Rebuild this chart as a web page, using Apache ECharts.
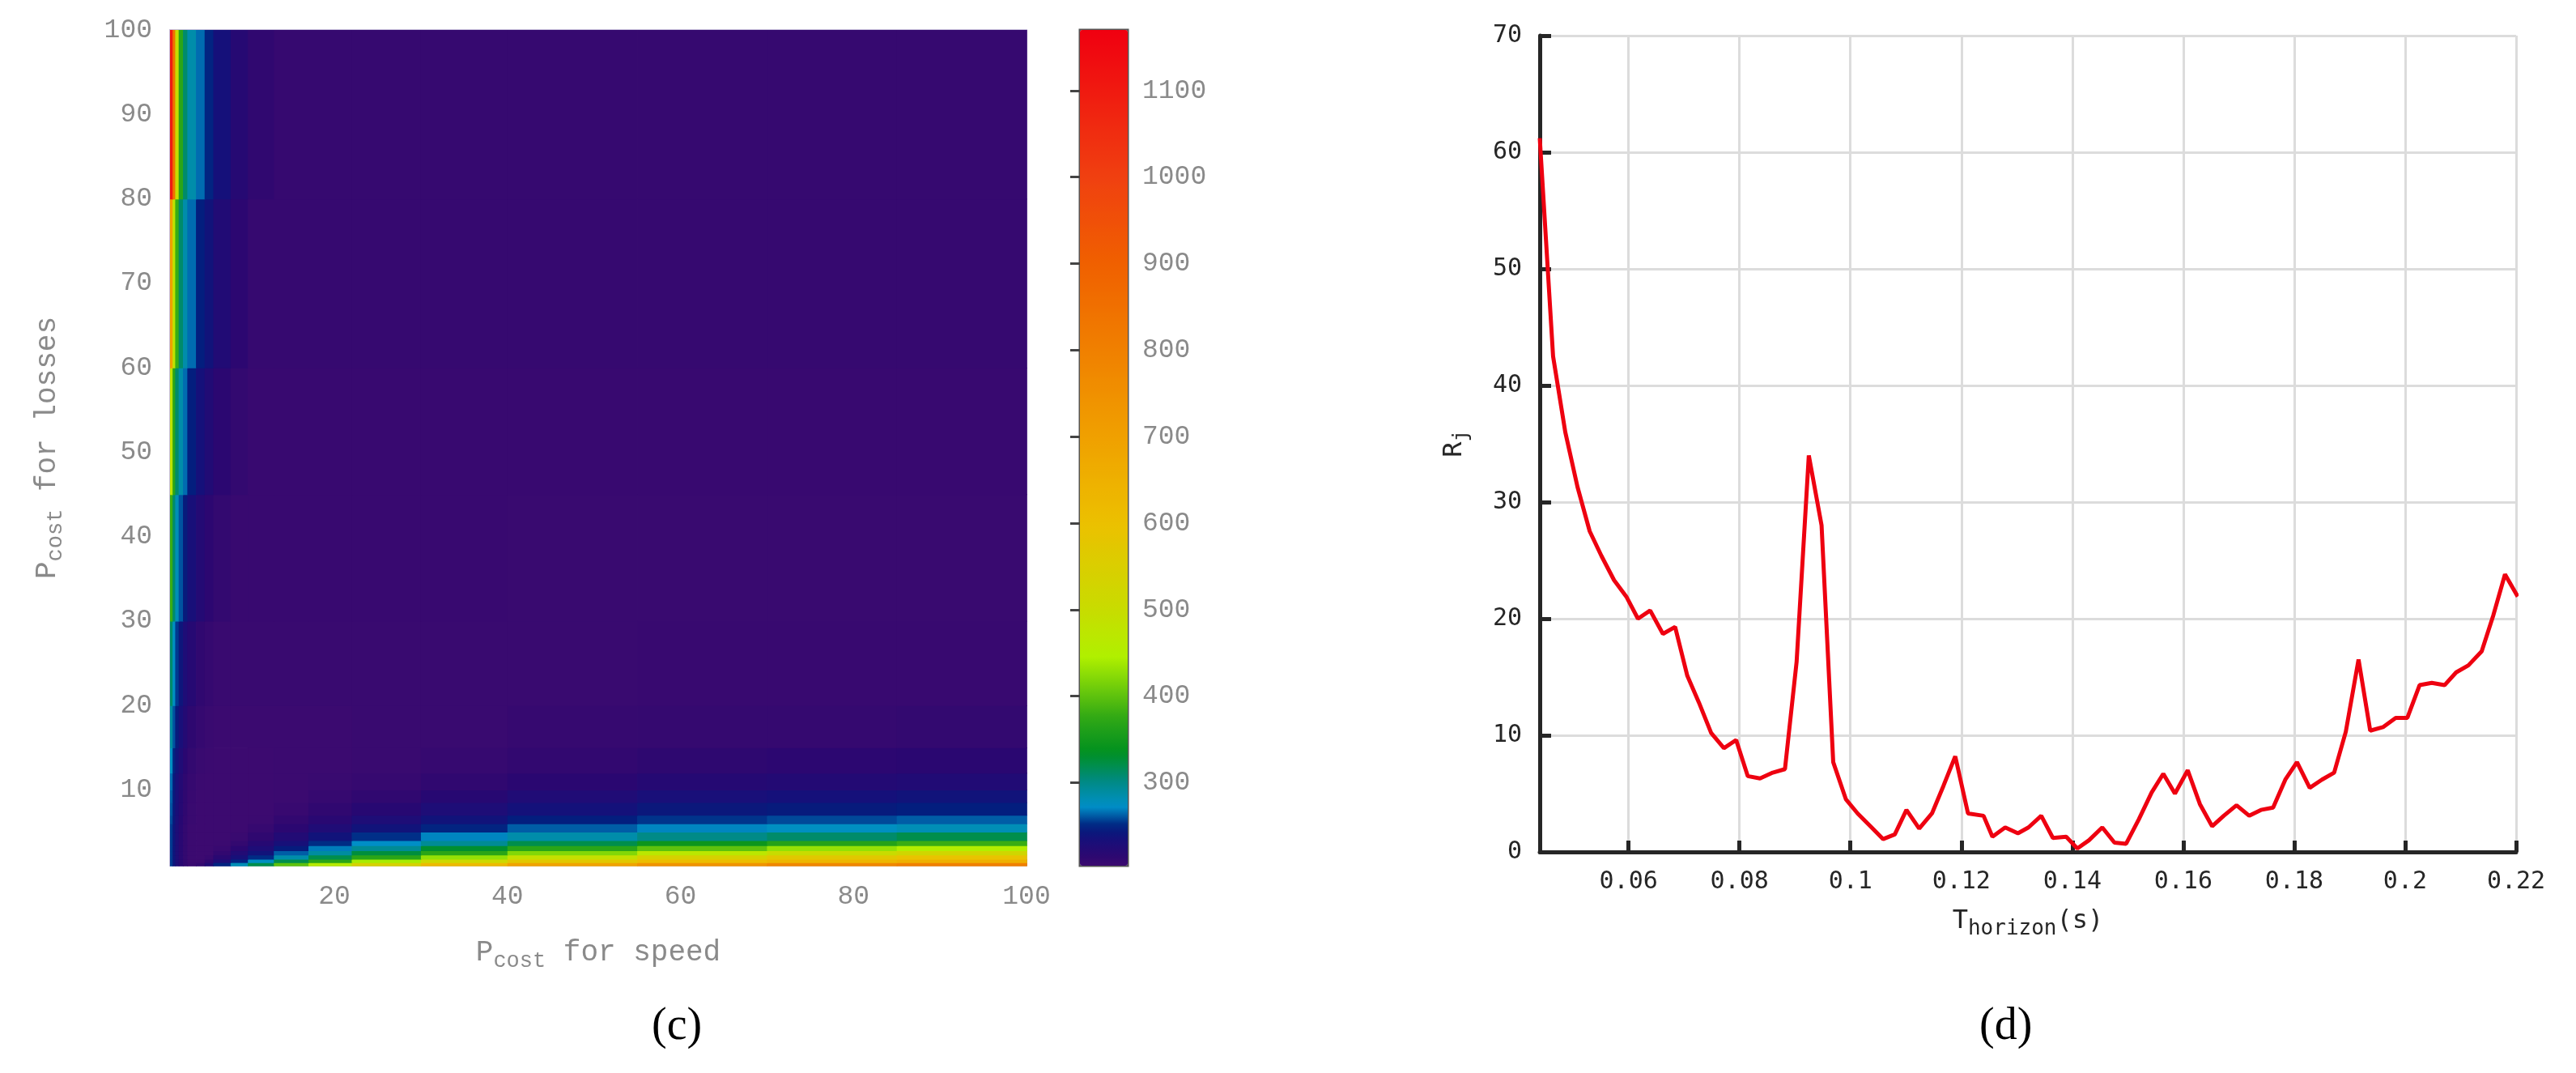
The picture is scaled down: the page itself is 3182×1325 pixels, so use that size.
<!DOCTYPE html>
<html><head><meta charset="utf-8">
<script src="https://cdn.jsdelivr.net/npm/echarts@6/dist/echarts.min.js"></script>
<style>html,body{margin:0;padding:0;background:#fff}#c{width:3182px;height:1325px}</style>
</head><body><div id="c"></div>
<script>
// ---- heatmap (c) data ----
const xEdges = [1,1.3,1.6,2,2.5,3,4,5,6,8,10,13,17,22,30,40,55,70,85,100];
const yEdges = [1,1.4,1.8,2.3,2.8,3.4,4,5,6,7,8.5,10,12,15,20,30,45,60,80,100];
const heatRows = [
 [255,240,228,218,210,206,210,225,250,280,320,400,460,540,620,690,740,780,800],
 [255,240,228,218,210,205,205,212,228,250,275,320,370,440,510,570,610,630,650],
 [255,240,228,218,210,205,203,207,218,234,252,285,320,370,430,490,540,570,590],
 [255,240,228,218,210,205,203,204,211,224,238,262,290,325,370,420,470,500,520],
 [255,240,228,218,210,205,203,203,207,216,228,246,268,295,330,370,400,430,450],
 [255,240,228,218,210,205,203,203,205,210,220,234,252,272,295,320,345,365,380],
 [255,240,228,218,210,205,203,203,204,206,213,224,238,253,270,285,300,310,320],
 [255,240,228,218,210,205,203,203,203,204,208,216,226,238,250,262,270,275,280],
 [258,242,230,219,211,206,203,203,203,203,205,211,218,228,238,248,254,258,262],
 [260,243,231,220,212,206,204,203,203,203,204,207,212,219,228,236,242,245,248],
 [262,244,232,221,213,207,204,203,203,203,204,205,208,212,219,226,232,235,238],
 [265,245,232,222,214,208,205,204,203,203,204,205,206,208,212,217,221,223,225],
 [275,250,238,226,217,210,206,205,204,204,204,205,205,206,208,211,214,215,217],
 [290,260,245,232,222,214,209,206,205,205,205,205,205,206,206,208,209,209,210],
 [310,275,255,240,228,220,212,209,206,206,206,206,206,206,206,206,207,207,207],
 [380,310,280,260,245,233,222,215,210,207,207,207,207,207,207,206,206,206,206],
 [480,370,310,285,265,248,235,225,216,210,207,207,207,207,207,207,207,207,207],
 [700,480,380,310,285,265,248,238,225,215,208,208,208,208,208,208,208,208,208],
 [1100,850,500,370,310,285,265,250,235,220,212,208,208,208,208,208,208,208,208]
];
const heatXTicks = [20,40,60,80,100];
const heatYTicks = [10,20,30,40,50,60,70,80,90,100];
const cbarTicks = [300,400,500,600,700,800,900,1000,1100];
const cbarMin = 204, cbarMax = 1170;

// ---- line (d) data ----
const tHorizon = [0.044,0.0464,0.0486,0.0508,0.0530,0.0551,0.0574,0.0596,0.0617,0.0639,0.0662,0.0684,0.0706,0.0727,0.0749,0.0772,0.0794,0.0815,0.0837,0.0860,0.0882,0.0903,0.0925,0.0948,0.0969,0.0992,0.1013,0.1036,0.1059,0.1080,0.1101,0.1124,0.1147,0.1168,0.1189,0.1212,0.124,0.1256,0.1279,0.1302,0.1321,0.1344,0.1365,0.1389,0.1409,0.1430,0.1454,0.1476,0.1497,0.1520,0.1543,0.1564,0.1585,0.1608,0.1630,0.1652,0.1673,0.1696,0.1719,0.1740,0.1762,0.1784,0.1805,0.1828,0.1850,0.1872,0.1893,0.1916,0.1937,0.1960,0.1983,0.2004,0.2026,0.2048,0.2071,0.2092,0.2114,0.2138,0.2159,0.2180,0.2203];
const rj = [61.2,42.5,36,31.3,27.5,25.4,23.3,21.9,20.0,20.7,18.7,19.3,15.1,12.8,10.2,8.9,9.6,6.5,6.3,6.8,7.1,16.3,34.0,28.0,7.7,4.5,3.3,2.2,1.1,1.5,3.6,2.0,3.3,5.7,8.2,3.3,3.1,1.3,2.1,1.6,2.1,3.1,1.2,1.3,0.3,1.0,2.1,0.8,0.7,2.8,5.1,6.7,5.0,7.0,4.1,2.2,3.1,4.0,3.1,3.6,3.8,6.2,7.7,5.5,6.2,6.8,10.3,16.5,10.4,10.7,11.5,11.5,14.3,14.5,14.3,15.4,16.0,17.2,20.3,23.8,21.9];
const lineXTicks = [0.06,0.08,0.1,0.12,0.14,0.16,0.18,0.2,0.22];

// colour scale stops
const stops = [[204,'#3c0a70'],[215,'#2c0770'],[235,'#16107a'],[250,'#00207e'],[272,'#0090c8'],[300,'#008a88'],[335,'#009020'],[375,'#30a815'],[445,'#b0f000'],[500,'#c8dc00'],[600,'#ecc000'],[700,'#f0a000'],[800,'#f08000'],[900,'#f06000'],[1000,'#f04010'],[1100,'#f01a10'],[1170,'#f00010']];
function hex(c){return [parseInt(c.slice(1,3),16),parseInt(c.slice(3,5),16),parseInt(c.slice(5,7),16)];}
const colors=[];
for(let i=0;i<=240;i++){
  const v=cbarMin+(cbarMax-cbarMin)*i/240;
  let k=0; while(k<stops.length-2 && v>stops[k+1][0]) k++;
  const a=stops[k],b=stops[k+1]; const t=Math.min(1,Math.max(0,(v-a[0])/(b[0]-a[0])));
  const ca=hex(a[1]),cb=hex(b[1]);
  colors.push('rgb('+ca.map((q,j)=>Math.round(q+(cb[j]-q)*t)).join(',')+')');
}

const heatData=[];
heatRows.forEach((row,yi)=>row.forEach((v,xi)=>heatData.push([xi,yi,v])));

const mono='"Liberation Mono", "DejaVu Sans Mono", monospace';
const dmono='"DejaVu Sans Mono", monospace';
const chart=echarts.init(document.getElementById('c'));
chart.setOption({
  animation:false,
  grid:[
    {left:210,top:37,width:1058,height:1032,show:true,borderColor:'#c8c0dc',borderWidth:2,backgroundColor:'transparent'},
    {left:1902,top:44,width:1206,height:1008},
    {left:1334,top:37,width:59,height:1032,show:true,borderColor:'#555',borderWidth:3}
  ],
  xAxis:[
    {gridIndex:0,type:'value',min:1,max:100,
     axisLine:{show:false},axisTick:{show:true,inside:true,length:8,lineStyle:{color:'#999'},customValues:heatXTicks},
     splitLine:{show:false},
     axisLabel:{customValues:heatXTicks,color:'#8a8a8a',fontFamily:mono,fontSize:33,margin:22},
     name:'{a|P}{s|cost}{a| for speed}',nameLocation:'middle',nameGap:84,
     nameTextStyle:{rich:{a:{fontFamily:mono,fontSize:36,color:'#8a8a8a'},s:{fontFamily:mono,fontSize:27,color:'#8a8a8a',padding:[20,0,0,0]}}}},
    {gridIndex:1,type:'value',min:0.044,max:0.22,
     axisLine:{show:true,lineStyle:{color:'#262626',width:5}},
     axisTick:{show:true,inside:true,length:14,lineStyle:{color:'#262626',width:5},customValues:lineXTicks},
     splitLine:{show:true,lineStyle:{color:'#dcdcdc',width:3}},
     axisLabel:{customValues:lineXTicks,color:'#262626',fontFamily:dmono,fontSize:30,margin:22,formatter:v=>String(+v.toFixed(3))},
     name:'{a|T}{s|horizon}{a|(s)}',nameLocation:'middle',nameGap:64,
     nameTextStyle:{rich:{a:{fontFamily:dmono,fontSize:32,color:'#262626'},s:{fontFamily:dmono,fontSize:26,color:'#262626',padding:[18,0,0,0]}}}},
    {gridIndex:2,type:'value',show:false,min:0,max:1}
  ],
  yAxis:[
    {gridIndex:0,type:'value',min:1,max:100,
     axisLine:{show:false},axisTick:{show:true,inside:true,length:8,lineStyle:{color:'#999'},customValues:heatYTicks},
     splitLine:{show:false},
     axisLabel:{customValues:heatYTicks,color:'#8a8a8a',fontFamily:mono,fontSize:33,margin:22},
     name:'{a|P}{s|cost}{a| for losses}',nameLocation:'middle',nameGap:128,
     nameTextStyle:{rich:{a:{fontFamily:mono,fontSize:36,color:'#8a8a8a'},s:{fontFamily:mono,fontSize:27,color:'#8a8a8a',padding:[20,0,0,0]}}}},
    {gridIndex:1,type:'value',min:0,max:70,interval:10,
     axisLine:{show:true,lineStyle:{color:'#262626',width:5}},
     axisTick:{show:true,inside:true,length:14,lineStyle:{color:'#262626',width:5}},
     splitLine:{show:true,lineStyle:{color:'#dcdcdc',width:3}},
     axisLabel:{color:'#262626',fontFamily:dmono,fontSize:30,margin:22},
     name:'{a|R}{s|j}',nameLocation:'middle',nameGap:84,
     nameTextStyle:{rich:{a:{fontFamily:dmono,fontSize:32,color:'#262626'},s:{fontFamily:dmono,fontSize:24,color:'#262626',padding:[18,0,0,0]}}}},
    {gridIndex:2,type:'value',min:cbarMin,max:cbarMax,position:'right',
     axisLine:{show:false},
     axisTick:{show:true,inside:true,length:12,lineStyle:{color:'#444',width:3},customValues:cbarTicks},
     splitLine:{show:false},
     axisLabel:{customValues:cbarTicks,color:'#8a8a8a',fontFamily:mono,fontSize:33,margin:18,formatter:v=>String(v)}}
  ],
  visualMap:{type:'continuous',min:cbarMin,max:cbarMax,dimension:2,seriesIndex:0,
    left:1334,top:37,itemWidth:59,itemHeight:1032,padding:0,calculable:false,
    text:null,showLabel:false,inRange:{color:colors},textStyle:{color:'transparent'}},
  series:[
    {type:'custom',xAxisIndex:0,yAxisIndex:0,data:heatData,
     renderItem:(params,api)=>{
       const xi=api.value(0), yi=api.value(1);
       const p0=api.coord([xEdges[xi],yEdges[yi]]);
       const p1=api.coord([xEdges[xi+1],yEdges[yi+1]]);
       const c=api.visual('color');
       return {type:'rect',shape:{x:p0[0],y:p1[1],width:p1[0]-p0[0]+0.8,height:p0[1]-p1[1]+0.8},style:{fill:c,stroke:null}};
     }},
    {type:'line',xAxisIndex:1,yAxisIndex:1,data:tHorizon.map((t,i)=>[t,rj[i]]),
     showSymbol:false,lineStyle:{color:'#ee0010',width:5},z:5}
  ],
  graphic:[
    {type:'text',left:805,top:1240,style:{text:'(c)',font:'56px "Liberation Serif", serif',fill:'#000'}},
    {type:'text',left:2445,top:1240,style:{text:'(d)',font:'56px "Liberation Serif", serif',fill:'#000'}}
  ]
});
</script></body></html>
